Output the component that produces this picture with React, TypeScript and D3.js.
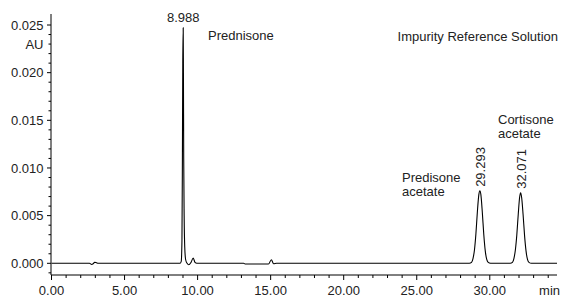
import React from "react";
import * as d3 from "d3";

// Chromatogram trace: retention time (min) and absorbance (AU)
const retentionTime = [
  0, 2.6, 2.75, 2.85, 2.95, 3.05, 3.2,
  8.8, 8.88, 8.93, 8.96, 8.985, 9.015, 9.03, 9.05, 9.08, 9.12, 9.18, 9.28,
  9.4, 9.55, 9.7, 9.82, 9.95,
  13.15, 13.25, 14.85, 15.05, 15.2, 15.4,
  28.6, 28.75, 28.85, 28.95, 29.05, 29.15, 29.25, 29.32, 29.39, 29.49, 29.59, 29.69, 29.79, 29.89, 30.05,
  31.4, 31.55, 31.65, 31.75, 31.85, 31.95, 32.04, 32.11, 32.18, 32.28, 32.38, 32.48, 32.58, 32.68, 32.85,
  34.6,
];
const absorbance = [
  0, 0, -0.00012, -0.00005, 0.0001, 0.00008, 0,
  0, 0.0002, 0.0025, 0.011, 0.021, 0.0247, 0.02, 0.011, 0.005, 0.0017, 0.0004, 0,
  -0.00015, 0.0001, 0.00055, 0.0001, 0,
  0, -0.00008, -0.00008, 0.00038, -0.00005, 0,
  0, 0.0001, 0.0005, 0.0014, 0.0031, 0.0054, 0.0072, 0.0076, 0.0072, 0.0053, 0.003, 0.0013, 0.0004, 0.0001, 0,
  0, 0.0001, 0.0005, 0.0014, 0.003, 0.0052, 0.0069, 0.0074, 0.0069, 0.0051, 0.0029, 0.0013, 0.0004, 0.0001, 0,
  0,
];

const xTicks = [0, 5, 10, 15, 20, 25, 30];
const xTickLabels = ["0.00", "5.00", "10.00", "15.00", "20.00", "25.00", "30.00"];
const yTicks = [0, 0.005, 0.01, 0.015, 0.02, 0.025];
const yTickLabels = ["0.000", "0.005", "0.010", "0.015", "0.020", "0.025"];

const peakLabels = ["8.988", "29.293", "32.071"];
const peakHeights = [0.0247, 0.0076, 0.0074];
// visual apex positions on the trace
const apexTimes = [9.015, 29.32, 32.11];

const W = 561;
const H = 298;
const FONT = "'Liberation Sans', Arial, sans-serif";

export default function App() {
  const x = d3.scaleLinear().domain([0, 34.6]).range([51.5, 557]);
  const y = d3.scaleLinear().domain([0, 0.025]).range([263.3, 25]);
  const yBottom = 275;
  const yTop = 14;

  const pts: [number, number][] = retentionTime.map((t, i) => [t, absorbance[i]]);
  const line = d3
    .line<[number, number]>()
    .x((d) => x(d[0]))
    .y((d) => y(d[1]))
    .curve(d3.curveMonotoneX);

  const xMinor = d3.range(0, 35, 1).filter((v) => v % 5 !== 0);
  const yMinor = d3
    .range(-1, 26, 1)
    .filter((v) => v % 5 !== 0)
    .map((v) => v / 1000);

  return (
    <svg
      width={W}
      height={H}
      style={{ position: "absolute", left: 0, top: 0, background: "#fff" }}
      fontFamily={FONT}
      fontSize={13}
    >
      <rect x={0} y={0} width={W} height={H} fill="#fff" />
      {/* Y axis */}
      <line x1={51} x2={51} y1={yTop} y2={yBottom} stroke="#000" strokeWidth={1} />
      {yTicks.map((v, i) => (
        <g key={"yt" + i}>
          <line x1={47} x2={51} y1={y(v)} y2={y(v)} stroke="#000" />
          <text x={43.5} y={y(v)} dy="0.35em" textAnchor="end" fill="#222">
            {yTickLabels[i]}
          </text>
        </g>
      ))}
      {yMinor.map((v, i) => (
        <line key={"ym" + i} x1={48.5} x2={51} y1={y(v)} y2={y(v)} stroke="#000" />
      ))}
      <text x={43.5} y={y(0.023)} dy="0.35em" textAnchor="end" fill="#222">
        AU
      </text>

      {/* X axis */}
      <line x1={51} x2={557} y1={yBottom} y2={yBottom} stroke="#000" strokeWidth={1} />
      {xTicks.map((v, i) => (
        <g key={"xt" + i}>
          <line x1={x(v)} x2={x(v)} y1={yBottom} y2={yBottom + 5} stroke="#000" />
          <text x={x(v)} y={295} textAnchor="middle" fill="#222">
            {xTickLabels[i]}
          </text>
        </g>
      ))}
      {xMinor.map((v, i) => (
        <line key={"xm" + i} x1={x(v)} x2={x(v)} y1={yBottom} y2={yBottom + 3} stroke="#000" />
      ))}
      <text x={560} y={295} textAnchor="end" fill="#222">
        min
      </text>

      {/* Trace */}
      <path d={line(pts) || ""} fill="none" stroke="#000" strokeWidth={1.1} />

      {/* Peak labels */}
      <text x={x(apexTimes[0])} y={22} textAnchor="middle" fill="#222">
        {peakLabels[0]}
      </text>
      {[1, 2].map((k) => (
        <text
          key={"pl" + k}
          transform={`translate(${x(apexTimes[k]) + 5},${y(peakHeights[k]) - 4}) rotate(-90)`}
          textAnchor="start"
          fill="#222"
        >
          {peakLabels[k]}
        </text>
      ))}

      <text x={208} y={40} fill="#222">Prednisone</text>
      <text x={558} y={41} textAnchor="end" fill="#222">
        Impurity Reference Solution
      </text>
      <text x={402} y={181.5} fill="#222">Predisone</text>
      <text x={402} y={196} fill="#222">acetate</text>
      <text x={498} y={123.5} fill="#222">Cortisone</text>
      <text x={498} y={138} fill="#222">acetate</text>
    </svg>
  );
}
